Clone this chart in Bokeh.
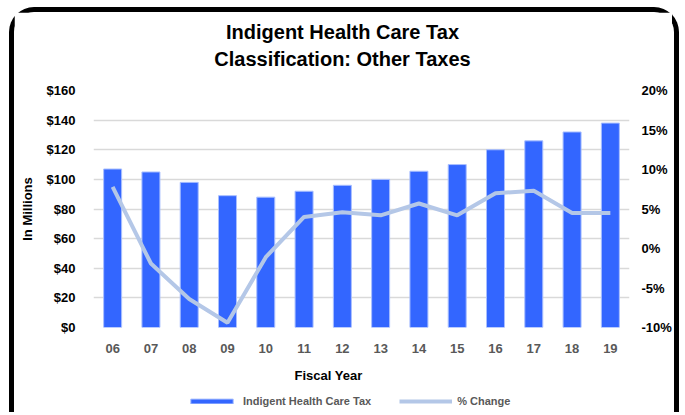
from bokeh.plotting import figure
from bokeh.layouts import column
from bokeh.models import (Range1d, FactorRange, LinearAxis, FixedTicker, PrintfTickFormatter,
                          Legend, LegendItem, Label, ColumnDataSource)
from bokeh.embed import file_html
from bokeh.resources import INLINE

years = ["06", "07", "08", "09", "10", "11", "12", "13", "14", "15", "16", "17", "18", "19"]
tax = [107, 105, 98, 89, 88, 92, 96, 100, 105.5, 110, 120, 126, 132, 138]
pct_change = [7.8, -1.9, -6.4, -9.4, -1.1, 4.0, 4.6, 4.2, 5.7, 4.2, 7.0, 7.3, 4.5, 4.5]
left_ticks = [0, 20, 40, 60, 80, 100, 120, 140, 160]
right_ticks = [-10, -5, 0, 5, 10, 15, 20]

FONT = "Liberation Sans"
W = 658
BL, FW = 79, 536
BR = W - BL - FW
BAR_COLOR = "#3366FF"
BAR_EDGE = "#A9BFFF"
LINE_COLOR = "#B4C7E7"

src = ColumnDataSource(dict(year=years, tax=tax, pct=pct_change))


def blank_fig(h):
    f = figure(frame_width=FW, frame_height=h, x_range=FactorRange(*years, range_padding=0),
               y_range=Range1d(0, 1), output_backend="svg", toolbar_location=None,
               x_axis_location=None, y_axis_location=None,
               min_border_left=BL, min_border_right=BR, min_border_top=0, min_border_bottom=0)
    f.grid.visible = False
    f.outline_line_color = None
    f.border_fill_color = "white"
    f.background_fill_color = "white"
    return f


def lab(f, text, x, y, size, color="black"):
    f.add_layout(Label(x=x, y=y, x_units="screen", y_units="screen", text=text,
                       text_font=FONT, text_font_style="bold", text_font_size=size,
                       text_color=color, text_align="center", text_baseline="alphabetic"))


# ---- title strip
top = blank_fig(68)
lab(top, "Indigent Health Care Tax", 249, 49, "20px")
lab(top, "Classification: Other Taxes", 249, 22, "20px")

# ---- main chart
p = figure(x_range=FactorRange(*years, range_padding=0), y_range=Range1d(0, 160),
           frame_width=FW, frame_height=237, output_backend="svg", toolbar_location=None,
           min_border_left=BL, min_border_right=BR, min_border_top=10,
           min_border_bottom=35)
p.extra_y_ranges = {"pct": Range1d(-10, 20)}
p.outline_line_color = None
p.background_fill_color = "white"
p.border_fill_color = "white"

p.vbar(x="year", top="tax", width=0.47, source=src, fill_color=BAR_COLOR,
       line_color=BAR_EDGE, line_width=1)
p.line(x="year", y="pct", source=src, y_range_name="pct", line_color=LINE_COLOR,
       line_width=4)

p.yaxis.ticker = FixedTicker(ticks=left_ticks)
p.yaxis.formatter = PrintfTickFormatter(format="$%d")
ax_r = LinearAxis(y_range_name="pct", ticker=FixedTicker(ticks=right_ticks),
                  formatter=PrintfTickFormatter(format="%d%%"))
p.add_layout(ax_r, "right")

for ax in [p.yaxis[0], ax_r, p.xaxis[0]]:
    ax.axis_line_color = None
    ax.major_tick_line_color = None
    ax.minor_tick_line_color = None
    ax.major_tick_out = 0
    ax.major_tick_in = 0
    ax.major_label_text_font = FONT
    ax.major_label_text_font_style = "bold"
    ax.major_label_text_font_size = "13px"
    ax.major_label_text_color = "black"
p.yaxis[0].major_label_standoff = 18
ax_r.major_label_standoff = 12
p.xaxis.major_label_text_color = "#595959"
p.xaxis.major_label_standoff = 16

p.yaxis[0].axis_label = "In Millions"
p.yaxis[0].axis_label_text_font = FONT
p.yaxis[0].axis_label_text_font_style = "bold"
p.yaxis[0].axis_label_text_font_size = "13px"
p.yaxis[0].axis_label_text_color = "black"
p.yaxis[0].axis_label_standoff = 9

p.xgrid.grid_line_color = None
p.ygrid.ticker = FixedTicker(ticks=left_ticks)
p.ygrid.grid_line_color = "#D9D9D9"
p.ygrid.grid_line_width = 1.5

# ---- bottom strip: x-axis title and legend
bot = blank_fig(50)
lab(bot, "Fiscal Year", 235, 37, "13px")
# same series, hidden here, only used to draw the legend swatches
leg_bar = bot.vbar(x="year", top="tax", width=0.47, source=src, fill_color=BAR_COLOR,
                   line_color=BAR_EDGE, line_width=1, visible=False)
leg_line = bot.line(x="year", y="pct", source=src, line_color=LINE_COLOR, line_width=4,
                    visible=False)
legend = Legend(items=[LegendItem(label="Indigent Health Care Tax", renderers=[leg_bar]),
                       LegendItem(label="% Change", renderers=[leg_line])],
                orientation="horizontal", location=(92, 4), padding=0, margin=0,
                spacing=28, glyph_width=53, glyph_height=6, label_standoff=5,
                label_height=14, label_text_font=FONT, label_text_font_style="bold",
                label_text_font_size="11px", label_text_color="#595959",
                border_line_color=None, background_fill_alpha=0,
                inactive_fill_alpha=0)
bot.add_layout(legend, "center")

layout = column(top, p, bot, spacing=0)
layout.styles = {"margin-left": "9px", "margin-top": "7px",
                 "border-top": "5px solid black", "border-left": "5px solid black",
                 "border-right": "5px solid black", "border-bottom": "none",
                 "border-radius": "25px 25px 0 0", "background": "white"}

open("out.html", "w").write(file_html(layout, INLINE))
